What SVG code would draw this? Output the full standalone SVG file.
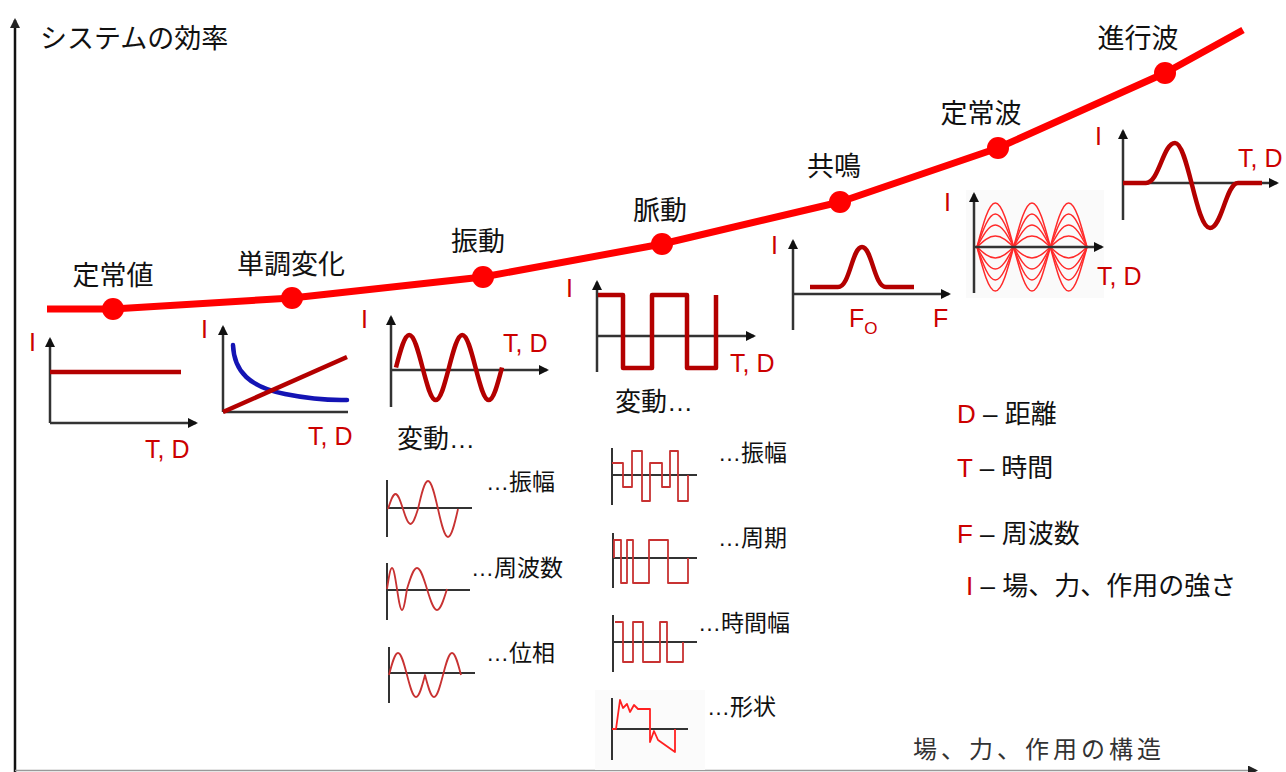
<svg xmlns="http://www.w3.org/2000/svg" xmlns:xlink="http://www.w3.org/1999/xlink" width="1286" height="772" viewBox="0 0 1286 772">
<style>
.ax{stroke:#333;stroke-width:2.5;fill:none}
.axs{stroke:#333;stroke-width:2;fill:none}
.dr{stroke:#b40000;stroke-width:4.5;fill:none;stroke-linejoin:round}
.vr{stroke:#c83232;stroke-width:1.8;fill:none;stroke-linejoin:round}
.sw{stroke:#ff2a2a;stroke-width:1.5;fill:none}
.lbl{font-family:"Liberation Sans","Noto Sans CJK JP",sans-serif;font-size:26px;fill:#111}
.big{font-size:27px}
.sm{font-size:23px}
.red{font-family:"Liberation Sans",sans-serif;font-size:25px;fill:#cc0000}
.dot{fill:#ff0000}
.mid{text-anchor:middle}
</style>
<defs>
<marker id="ah" viewBox="0 0 10 10" refX="8" refY="5" markerWidth="10" markerHeight="10" markerUnits="userSpaceOnUse" orient="auto">
<path d="M0,0 L10,5 L0,10 z" fill="#111"/>
</marker>
<marker id="ahg" viewBox="0 0 10 10" refX="8" refY="5" markerWidth="10" markerHeight="10" markerUnits="userSpaceOnUse" orient="auto">
<path d="M0,0 L10,5 L0,10 z" fill="#222"/>
</marker>
</defs>

<g id="main-axes">
<line x1="15" y1="772" x2="15" y2="20" stroke="#111" stroke-width="2.5" marker-end="url(#ahg)"/>
<line x1="15" y1="770.5" x2="1256" y2="770.5" stroke="#999" stroke-width="1.5" marker-end="url(#ahg)"/>
<text id="y-title" class="lbl big" x="40" y="48">システムの効率</text>
<text id="x-title" class="lbl" x="913" y="758" style="font-size:24px;fill:#333;letter-spacing:4px">場、力、作用の構造</text>
</g>

<g id="connectors">
<polyline points="47,309 113,309 292,298 483,277 662,244 840,202 998,148 1165,73 1243,30" fill="none" stroke="#ff0000" stroke-width="7" stroke-linejoin="round"/>
</g>

<g id="n-constant">
<circle class="dot" cx="113" cy="309" r="11"/>
<text class="lbl big mid" x="113" y="285">定常値</text>
<line class="ax" x1="50" y1="423" x2="50" y2="339" marker-end="url(#ah)"/>
<line class="ax" x1="50" y1="423" x2="196" y2="423" marker-end="url(#ah)"/>
<line class="dr" x1="50" y1="372" x2="181" y2="372"/>
<text class="red" x="29" y="351">I</text>
<text class="red" x="145" y="458">T, D</text>
</g>

<g id="n-monotonic">
<circle class="dot" cx="292" cy="298" r="11"/>
<text class="lbl big mid" x="291" y="274">単調変化</text>
<line class="ax" x1="223" y1="412" x2="223" y2="327" marker-end="url(#ah)"/>
<line class="ax" x1="223" y1="412" x2="348" y2="412"/>
<path d="M233,345 C234,372 250,387 285,394 S335,400 347,400" fill="none" stroke="#1414b4" stroke-width="4.5" stroke-linecap="round"/>
<line class="dr" x1="223" y1="412" x2="347" y2="357"/>
<text class="red" x="201" y="338">I</text>
<text class="red" x="308" y="445">T, D</text>
</g>

<g id="n-oscillation">
<circle class="dot" cx="483" cy="277" r="11"/>
<text class="lbl big mid" x="478" y="251">振動</text>
<line class="ax" x1="391" y1="407" x2="391" y2="317" marker-end="url(#ah)"/>
<line class="ax" x1="391" y1="370" x2="547" y2="370" marker-end="url(#ah)"/>
<path class="dr" d="M396,367.5 c4.43,-17.06 8.45,-32.5 13.25,-32.5 c4.8,0 8.82,15.44 13.25,32.5 c4.43,17.06 8.45,32.5 13.25,32.5 c4.8,0 8.82,-15.44 13.25,-32.5 c4.43,-17.06 8.45,-32.5 13.25,-32.5 c4.8,0 8.82,15.44 13.25,32.5 c4.43,17.06 8.45,32.5 13.25,32.5 c4.8,0 8.82,-15.44 13.25,-32.5"/>
<text class="red" x="361" y="328">I</text>
<text class="red" x="503" y="352">T, D</text>
<text class="lbl" x="397" y="448">変動…</text>
</g>

<g id="v-osc-amplitude">
<line class="axs" x1="387" y1="480" x2="387" y2="537"/>
<line class="axs" x1="387" y1="508" x2="472" y2="508"/>
<path class="vr" d="M388,509 c2.5,-7.9 4.8,-15 7.5,-15 c2.7,0 5,7.1 7.5,15 c2.5,7.9 4.8,15 7.5,15 c2.7,0 5,-7.1 7.5,-15 c3.3,-14.7 6.4,-28 10,-28 c3.6,0 6.7,13.3 10,28 c3.3,14.7 6.4,28 10,28 c3.6,0 6.7,-13.3 10,-28"/>
<text class="lbl sm" x="486" y="490">…振幅</text>
</g>

<g id="v-osc-frequency">
<line class="axs" x1="387" y1="563" x2="387" y2="620"/>
<line class="axs" x1="387" y1="590" x2="470" y2="590"/>
<path class="vr" d="M387,589 c1.67,-11 3.19,-21 5,-21 c1.81,0 3.33,10 5,21 c1.67,11 3.19,21 5,21 c1.81,0 3.33,-10 5,-21 c3.34,-11 6.38,-21 10,-21 c3.62,0 6.66,10 10,21 c3.34,11 6.38,21 10,21 c3.62,0 6.66,-10 10,-21"/>
<text class="lbl sm" x="471" y="576">…周波数</text>
</g>

<g id="v-osc-phase">
<line class="axs" x1="389" y1="647" x2="389" y2="703"/>
<line class="axs" x1="389" y1="673" x2="475" y2="673"/>
<path class="vr" d="M389,675 c3,-11.55 5.74,-22 9,-22 c3.26,0 6,10.45 9,22 c3,11.55 5.74,22 9,22 c3.26,0 6,-10.45 9,-22 c3,11.55 5.74,22 9,22 c3.26,0 6,-10.45 9,-22 c3,-11.55 5.74,-22 9,-22 c3.26,0 6,10.45 9,22"/>
<text class="lbl sm" x="486" y="661">…位相</text>
</g>

<g id="n-pulsation">
<circle class="dot" cx="662" cy="244" r="11"/>
<text class="lbl big mid" x="660" y="220">脈動</text>
<line class="ax" x1="597" y1="372" x2="597" y2="282" marker-end="url(#ah)"/>
<line class="ax" x1="597" y1="336" x2="754" y2="336" marker-end="url(#ah)"/>
<path class="dr" d="M598,295 H623 V368 H652 V295 H687 V368 H716 V295" stroke-width="5"/>
<text class="red" x="566" y="297">I</text>
<text class="red" x="730" y="372">T, D</text>
<text class="lbl" x="615" y="411">変動…</text>
</g>

<g id="v-pulse-amplitude">
<line class="axs" x1="612" y1="448" x2="612" y2="505"/>
<line class="axs" x1="612" y1="475" x2="697" y2="475"/>
<path class="vr" d="M612,463 H623 V487 H632 V451 H642 V501 H650 V463 H662 V487 H670 V451 H678 V501 H688 V475"/>
<text class="lbl sm" x="718" y="461">…振幅</text>
</g>

<g id="v-pulse-period">
<line class="axs" x1="613" y1="533" x2="613" y2="588"/>
<line class="axs" x1="613" y1="558" x2="697" y2="558"/>
<path class="vr" d="M614,558 V540 H621 V583 H627 V540 H633 V583 H649 V540 H668 V583 H688 V558"/>
<text class="lbl sm" x="718" y="546">…周期</text>
</g>

<g id="v-pulse-width">
<line class="axs" x1="613" y1="615" x2="613" y2="672"/>
<line class="axs" x1="613" y1="642" x2="697" y2="642"/>
<path class="vr" d="M615,622 H623 V662 H633 V622 H643 V662 H660 V622 H667 V662 H683 V642"/>
<text class="lbl sm" x="698" y="631">…時間幅</text>
</g>

<g id="v-pulse-shape">
<rect x="595" y="690" width="110" height="80" fill="#fbfbfb"/>
<line class="axs" x1="612" y1="698" x2="612" y2="760"/>
<line class="axs" x1="612" y1="729" x2="688" y2="729"/>
<path d="M612,729 H616 L620,700 L623,708 L627,704 L630,712 L634,705 L638,709 H650 V742 L654,731 L658,740 L675,752 V729" fill="none" stroke="#ff2020" stroke-width="1.8" stroke-linejoin="round"/>
<text class="lbl sm" x="707" y="715">…形状</text>
</g>

<g id="n-resonance">
<circle class="dot" cx="840" cy="202" r="11"/>
<text class="lbl big mid" x="834" y="176">共鳴</text>
<line class="ax" x1="793" y1="330" x2="793" y2="241" marker-end="url(#ah)"/>
<line class="ax" x1="793" y1="294" x2="949" y2="294" marker-end="url(#ah)"/>
<path class="dr" d="M810,287 H838 C850,287 852,247 862,247 C872,247 874,287 886,287 H914"/>
<text class="red" x="771" y="254">I</text>
<text class="red" x="849" y="327">F<tspan font-size="17" dy="7">O</tspan></text>
<text class="red" x="933" y="327">F</text>
</g>

<g id="n-standing-wave">
<circle class="dot" cx="998" cy="148" r="11"/>
<text class="lbl big mid" x="981" y="123">定常波</text>
<rect x="966" y="190" width="138" height="108" fill="#fafafa"/>
<g id="sw-lines">
<path class="sw" d="M977,247 c6.12,-23.1 11.7,-44 18.33,-44 c6.64,0 12.21,20.9 18.33,44 c6.12,23.1 11.7,44 18.33,44 c6.64,0 12.21,-20.9 18.33,-44 c6.12,-23.1 11.7,-44 18.33,-44 c6.64,0 12.21,20.9 18.33,44"/>
<path class="sw" d="M977,247 c6.12,-17.33 11.7,-33 18.33,-33 c6.64,0 12.21,15.68 18.33,33 c6.12,17.33 11.7,33 18.33,33 c6.64,0 12.21,-15.68 18.33,-33 c6.12,-17.33 11.7,-33 18.33,-33 c6.64,0 12.21,15.68 18.33,33"/>
<path class="sw" d="M977,247 c6.12,-11.55 11.7,-22 18.33,-22 c6.64,0 12.21,10.45 18.33,22 c6.12,11.55 11.7,22 18.33,22 c6.64,0 12.21,-10.45 18.33,-22 c6.12,-11.55 11.7,-22 18.33,-22 c6.64,0 12.21,10.45 18.33,22"/>
<path class="sw" d="M977,247 c6.12,-5.78 11.7,-11 18.33,-11 c6.64,0 12.21,5.22 18.33,11 c6.12,5.78 11.7,11 18.33,11 c6.64,0 12.21,-5.22 18.33,-11 c6.12,-5.78 11.7,-11 18.33,-11 c6.64,0 12.21,5.22 18.33,11"/>
</g>
<use xlink:href="#sw-lines" href="#sw-lines" transform="matrix(1,0,0,-1,0,494)"/>
<line class="ax" x1="974" y1="293" x2="974" y2="194" marker-end="url(#ah)"/>
<line class="ax" x1="974" y1="247" x2="1102" y2="247" marker-end="url(#ah)"/>
<text class="red" x="944" y="211">I</text>
<text class="red" x="1097" y="285">T, D</text>
</g>

<g id="n-traveling-wave">
<circle class="dot" cx="1165" cy="73" r="11"/>
<text class="lbl big mid" x="1138" y="48">進行波</text>
<line class="ax" x1="1123" y1="220" x2="1123" y2="131" marker-end="url(#ah)"/>
<line class="ax" x1="1123" y1="183" x2="1277" y2="183" marker-end="url(#ah)"/>
<path class="dr" d="M1123,183 H1146 C1159,183 1163,143 1175,143 C1188,143 1196,228 1210,228 C1222,228 1226,183 1238,183 H1262" stroke-width="5"/>
<text class="red" x="1095" y="145">I</text>
<text class="red" x="1238" y="167">T, D</text>
</g>

<g id="legend">
<text class="lbl" x="957" y="423"><tspan fill="#cc0000">D</tspan> – 距離</text>
<text class="lbl" x="957" y="477"><tspan fill="#cc0000">T</tspan> – 時間</text>
<text class="lbl" x="957" y="543"><tspan fill="#cc0000">F</tspan> – 周波数</text>
<text class="lbl" x="966" y="595"><tspan fill="#cc0000">I</tspan> – 場、力、作用の強さ</text>
</g>
</svg>
